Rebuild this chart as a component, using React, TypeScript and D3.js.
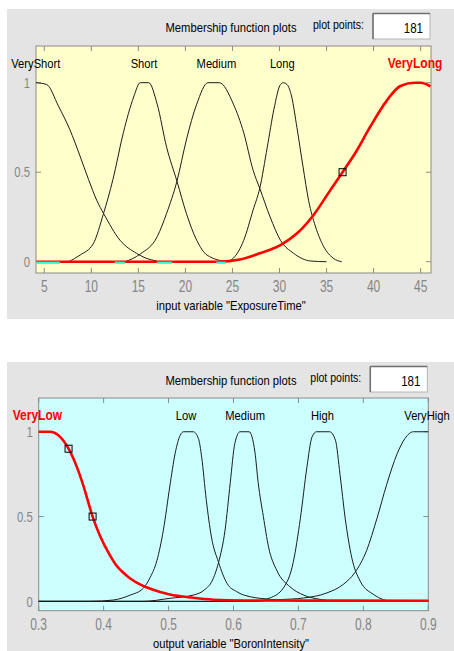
import React from "react";
import * as d3 from "d3";

type Pt = [number, number];

// ---------- Panel 1: input variable "ExposureTime" ----------
const inNames = ["VeryShort", "Short", "Medium", "Long", "VeryLong"];
const inLabelX = [4.1, 15.6, 23.3, 30.3, 44.4];
const inXTicks = [5, 10, 15, 20, 25, 30, 35, 40, 45];
const inVeryShort: Pt[] = [[4.12, 1], [5.25, 0.99], [6.5, 0.87], [7.7, 0.74], [8.8, 0.59], [9.7, 0.46], [10.6, 0.34], [11.3, 0.27], [13.05, 0.12], [14.8, 0.047], [15.8, 0.02], [16.96, 0.004]];
const inShort: Pt[] = [[7.6, 0], [8.8, 0.037], [10.2, 0.1], [11.3, 0.27], [12.3, 0.46], [13.4, 0.72], [14.5, 0.92], [15.2, 1], [16.1, 1], [17.0, 0.88], [18.0, 0.64], [19.1, 0.45], [20.1, 0.27], [21.2, 0.12], [22.3, 0.037], [24.4, 0]];
const inMedium: Pt[] = [[13.6, 0], [15.2, 0.043], [17, 0.14], [18, 0.27], [19.1, 0.45], [20.1, 0.68], [21.2, 0.88], [22.4, 1], [23.6, 1], [25.1, 0.88], [26.2, 0.72], [27.2, 0.51], [27.9, 0.41], [29, 0.25], [30.1, 0.12], [31.5, 0.047], [33.3, 0.004], [35, 0]];
const inLong: Pt[] = [[24.4, 0], [25.1, 0.02], [26.2, 0.12], [27.2, 0.29], [27.9, 0.41], [28.7, 0.64], [29.4, 0.85], [30.1, 0.99], [30.4, 1], [30.8, 0.99], [31.3, 0.92], [31.85, 0.75], [32.5, 0.53], [33.1, 0.34], [33.8, 0.2], [34.7, 0.084], [35.7, 0.02], [36.6, 0]];
const inVeryLong: Pt[] = [[4.12, 0], [23.5, 0], [25.8, 0.012], [27.9, 0.047], [30.1, 0.093], [31.9, 0.16], [33.6, 0.26], [35.4, 0.4], [36.7, 0.5], [38.2, 0.62], [39.6, 0.75], [41.4, 0.9], [42.8, 0.98], [44.3, 1], [45, 1], [46.05, 0.98]];
const inMarkers: Pt[] = [[36.7, 0.5]];
const inCyan: [number, number][] = [[4.12, 6.67], [12.5, 13.6], [17.0, 18.6], [23.3, 24.3]];

// ---------- Panel 2: output variable "BoronIntensity" ----------
const outNames = ["VeryLow", "Low", "Medium", "High", "VeryHigh"];
const outLabelX = [0.298, 0.527, 0.618, 0.737, 0.898];
const outXTicks = [0.3, 0.4, 0.5, 0.6, 0.7, 0.8, 0.9];
const outVeryLow: Pt[] = [[0.3, 1], [0.317, 1], [0.333, 0.97], [0.346, 0.9], [0.359, 0.79], [0.369, 0.68], [0.383, 0.5], [0.394, 0.39], [0.41, 0.27], [0.42, 0.21], [0.43, 0.17], [0.441, 0.135], [0.456, 0.1], [0.466, 0.083], [0.487, 0.055], [0.502, 0.04], [0.538, 0.021], [0.569, 0.01], [0.615, 0.005], [0.9, 0.004]];
const outLow: Pt[] = [[0.3, 0], [0.379, 0], [0.415, 0.008], [0.441, 0.037], [0.461, 0.077], [0.4715, 0.14], [0.482, 0.24], [0.492, 0.42], [0.502, 0.68], [0.51, 0.87], [0.518, 0.98], [0.523, 1], [0.538, 1], [0.546, 0.96], [0.551, 0.85], [0.558, 0.6], [0.566, 0.38], [0.577, 0.23], [0.59, 0.106], [0.605, 0.057], [0.626, 0.027], [0.641, 0.018], [0.67, 0.008], [0.72, 0], [0.9, 0]];
const outMedium: Pt[] = [[0.3, 0], [0.461, 0], [0.502, 0.018], [0.538, 0.037], [0.556, 0.07], [0.567, 0.12], [0.577, 0.23], [0.587, 0.42], [0.595, 0.7], [0.602, 0.93], [0.61, 1], [0.624, 1], [0.633, 0.88], [0.638, 0.7], [0.646, 0.5], [0.654, 0.32], [0.667, 0.18], [0.687, 0.086], [0.708, 0.037], [0.733, 0.012], [0.769, 0], [0.9, 0]];
const outHigh: Pt[] = [[0.3, 0], [0.631, 0], [0.656, 0.02], [0.677, 0.08], [0.692, 0.23], [0.703, 0.49], [0.713, 0.79], [0.721, 0.97], [0.728, 1], [0.748, 1], [0.757, 0.95], [0.764, 0.75], [0.772, 0.49], [0.782, 0.26], [0.795, 0.12], [0.816, 0.04], [0.846, 0], [0.9, 0]];
const outVeryHigh: Pt[] = [[0.3, 0], [0.626, 0], [0.67, 0.01], [0.708, 0.02], [0.744, 0.05], [0.769, 0.1], [0.787, 0.17], [0.805, 0.3], [0.821, 0.49], [0.836, 0.69], [0.852, 0.87], [0.864, 0.96], [0.877, 1], [0.9, 1]];
const outMarkers: Pt[] = [[0.346, 0.9], [0.383, 0.5]];

const yTicks = [0, 0.5, 1];
const yTickLabels = ["0", "0.5", "1"];

const FONT = "'Liberation Sans', Arial, Helvetica, sans-serif";

type TProps = {
  x: number; y: number; s?: number; size: number; anchor?: "start" | "middle" | "end";
  fill?: string; weight?: string; len?: number; children: React.ReactNode;
};
const T = ({ x, y, s = 1, size, anchor = "start", fill = "#000", weight = "normal", len, children }: TProps) => (
  <text
    transform={`translate(${x},${y}) scale(1,${s})`}
    fontSize={size}
    textAnchor={anchor}
    fill={fill}
    fontWeight={weight}
    fontFamily={FONT}
    textLength={len}
    lengthAdjust={len ? "spacingAndGlyphs" : undefined}
  >
    {children}
  </text>
);

type PanelProps = {
  top: number; bottom: number;
  x0: number; x1: number; y0: number; y1: number;
  xDomain: [number, number]; yDomain: [number, number];
  bg: string; curves: Pt[][]; selected: number;
  names: string[]; labelX: number[];
  xTicks: number[]; fmt: (v: number) => string;
  xLabel: string; markers: Pt[]; cyan?: [number, number][];
};

function Panel(p: PanelProps) {
  const x = d3.scaleLinear().domain(p.xDomain).range([p.x0, p.x1]);
  const y = d3.scaleLinear().domain(p.yDomain).range([p.y1, p.y0]);
  const line = d3.line<Pt>().x((d) => x(d[0])).y((d) => y(d[1])).curve(d3.curveMonotoneX);
  const axisC = "#8a8a8a";
  const tickC = "#8a8a8a";
  const tl = 5;
  const boxX = p.x1 - 58;
  const boxW = 57;
  const boxY = p.top + 4.5;
  const boxH = 25.5;
  return (
    <g>
      <rect x={7} y={p.top} width={447} height={p.bottom - p.top} fill="#e4e4e4" />
      {/* header */}
      <T x={231} y={p.top + 23} size={11.2} s={1.2} anchor="middle" len={131}>Membership function plots</T>
      <T x={boxX - 9} y={p.top + 19.8} size={11.2} s={1.2} anchor="end" len={51}>plot points:</T>
      <rect x={boxX} y={boxY} width={boxW} height={boxH} fill="#ffffff" stroke="#b4b4b4" strokeWidth={1} />
      <line x1={boxX} y1={boxY} x2={boxX + boxW} y2={boxY} stroke="#6e6e6e" strokeWidth={1.5} />
      <line x1={boxX} y1={boxY} x2={boxX} y2={boxY + boxH} stroke="#6e6e6e" strokeWidth={1.5} />
      <T x={boxX + boxW - 7} y={p.top + 23.8} size={11.5} s={1.2} anchor="end">181</T>

      {/* plot area */}
      <rect x={p.x0} y={p.y0} width={p.x1 - p.x0} height={p.y1 - p.y0} fill={p.bg} stroke={axisC} strokeWidth={1} />
      {p.xTicks.map((t) => (
        <g key={"xt" + t}>
          <line x1={x(t)} x2={x(t)} y1={p.y1} y2={p.y1 - tl} stroke={tickC} />
          <line x1={x(t)} x2={x(t)} y1={p.y0} y2={p.y0 + tl} stroke={tickC} />
          <T x={x(t)} y={p.y1 + 19.3} size={12} s={1.45} anchor="middle" fill="#858585">{p.fmt(t)}</T>
        </g>
      ))}
      {yTicks.map((t, i) => (
        <g key={"yt" + t}>
          <line x1={p.x0} x2={p.x0 + tl} y1={y(t)} y2={y(t)} stroke={tickC} />
          <line x1={p.x1} x2={p.x1 - tl} y1={y(t)} y2={y(t)} stroke={tickC} />
          <T x={p.x0 - 6} y={y(t) + 5.2} size={11.3} s={1.3} anchor="end" fill="#858585">{yTickLabels[i]}</T>
        </g>
      ))}

      {/* curves */}
      {p.curves.map((c, i) =>
        i === p.selected ? null : (
          <path key={"c" + i} d={line(c) || ""} fill="none" stroke="#1c1c1c" strokeWidth={1} />
        )
      )}
      <path d={line(p.curves[p.selected]) || ""} fill="none" stroke="#ff0000" strokeWidth={2.6} />
      {(p.cyan || []).map((seg, i) => (
        <line key={"cy" + i} x1={x(seg[0])} x2={x(seg[1])} y1={y(0) + 1} y2={y(0) + 1} stroke="#3cefd0" strokeWidth={2.2} />
      ))}
      {p.markers.map((m, i) => (
        <rect key={"m" + i} x={x(m[0]) - 3.5} y={y(m[1]) - 3.5} width={7} height={7} fill="none" stroke="#000" strokeWidth={1} />
      ))}

      {/* MF names */}
      {p.names.map((n, i) => (
        <T
          key={"n" + i}
          x={x(p.labelX[i])}
          y={p.y0 + 21.5}
          size={i === p.selected ? 12 : 11.2}
          s={1.22}
          anchor="middle"
          fill={i === p.selected ? "#ff0000" : "#000"}
          weight={i === p.selected ? "bold" : "normal"}
        >
          {n}
        </T>
      ))}

      <T x={231} y={p.y1 + 37} size={11.2} s={1.08} anchor="middle">{p.xLabel}</T>
    </g>
  );
}

export default function App() {
  return (
    <svg width={454} height={651} style={{ position: "absolute", left: 0, top: 0, background: "#fff" }}>
      <rect x={0} y={0} width={454} height={651} fill="#ffffff" />
      <Panel
        top={9}
        bottom={319}
        x0={36}
        x1={431}
        y0={46}
        y1={273}
        xDomain={[4.12, 46.1]}
        yDomain={[-0.063, 1.205]}
        bg="#ffffcc"
        curves={[inVeryShort, inShort, inMedium, inLong, inVeryLong]}
        selected={4}
        names={inNames}
        labelX={inLabelX}
        xTicks={inXTicks}
        fmt={(v) => String(v)}
        xLabel={'input variable "ExposureTime"'}
        markers={inMarkers}
        cyan={inCyan}
      />
      <Panel
        top={362}
        bottom={651}
        x0={38.7}
        x1={428.3}
        y0={398}
        y1={610.7}
        xDomain={[0.3, 0.9]}
        yDomain={[-0.055, 1.199]}
        bg="#ccffff"
        curves={[outVeryLow, outLow, outMedium, outHigh, outVeryHigh]}
        selected={0}
        names={outNames}
        labelX={outLabelX}
        xTicks={outXTicks}
        fmt={d3.format(".1f")}
        xLabel={'output variable "BoronIntensity"'}
        markers={outMarkers}
      />
    </svg>
  );
}
